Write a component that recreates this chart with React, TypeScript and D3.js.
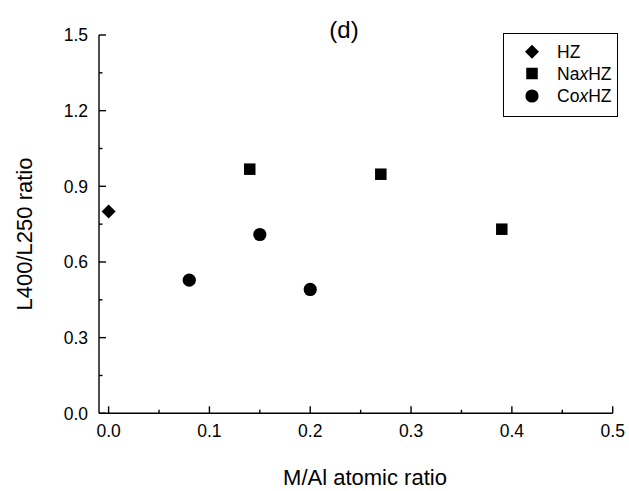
import React from "react";
import * as d3 from "d3";

const hzX = [0.0];
const hzY = [0.8];
const naX = [0.14, 0.27, 0.39];
const naY = [0.968, 0.948, 0.73];
const coX = [0.08, 0.15, 0.2];
const coY = [0.528, 0.709, 0.491];

const xTicks = [0, 0.1, 0.2, 0.3, 0.4, 0.5];
const xMinor = [0.05, 0.15, 0.25, 0.35, 0.45];
const yTicks = [0, 0.3, 0.6, 0.9, 1.2, 1.5];
const yMinor = [0.15, 0.45, 0.75, 1.05, 1.35];

const legendLabels = ["HZ", "NaxHZ", "CoxHZ"];

const W = 629;
const H = 491;
const font = "Liberation Sans, Arial, sans-serif";
const tickFs = 17.5;
const titleFs = 22;

export default function App() {
  const x = d3.scaleLinear().domain([0, 0.5]).range([108.6, 612.7]);
  const y = d3.scaleLinear().domain([0, 1.5]).range([413.3, 35]);
  const axisLeft = 99;
  const axisBottom = y(0);

  const diamondPath = d3.symbol().type(d3.symbolSquare).size(98)() || "";

  const renderMarker = (type: string, cx: number, cy: number, key: string) => {
    if (type === "diamond") {
      return (
        <path key={key} d={diamondPath} transform={`translate(${cx},${cy}) rotate(45)`} fill="#000" />
      );
    }
    if (type === "square") {
      const s = 11.5;
      return <rect key={key} x={cx - s / 2} y={cy - s / 2} width={s} height={s} fill="#000" />;
    }
    return <circle key={key} cx={cx} cy={cy} r={6.6} fill="#000" />;
  };

  const legendTypes = ["diamond", "square", "circle"];
  const legendRows = [51.7, 73.5, 96];

  return (
    <svg width={W} height={H} style={{ position: "absolute", left: 0, top: 0, background: "#fff" }}>
      <rect x={0} y={0} width={W} height={H} fill="#fff" />
      {/* axes */}
      <line x1={axisLeft} y1={y(1.5)} x2={axisLeft} y2={axisBottom} stroke="#000" strokeWidth={1.4} />
      <line x1={axisLeft} y1={axisBottom} x2={x(0.5)} y2={axisBottom} stroke="#000" strokeWidth={1.4} />
      {yTicks.map((t) => (
        <g key={"yt" + t}>
          <line x1={axisLeft} x2={axisLeft + 7} y1={y(t)} y2={y(t)} stroke="#000" strokeWidth={1.4} />
          <text x={88} y={y(t)} dy="0.36em" textAnchor="end" fontFamily={font} fontSize={tickFs}>
            {t.toFixed(1)}
          </text>
        </g>
      ))}
      {yMinor.map((t) => (
        <line key={"ym" + t} x1={axisLeft} x2={axisLeft + 3.5} y1={y(t)} y2={y(t)} stroke="#000" strokeWidth={1.4} />
      ))}
      {xTicks.map((t) => (
        <g key={"xt" + t}>
          <line x1={x(t)} x2={x(t)} y1={axisBottom} y2={axisBottom - 7} stroke="#000" strokeWidth={1.4} />
          <text x={x(t)} y={437} textAnchor="middle" fontFamily={font} fontSize={tickFs}>
            {t.toFixed(1)}
          </text>
        </g>
      ))}
      {xMinor.map((t) => (
        <line key={"xm" + t} x1={x(t)} x2={x(t)} y1={axisBottom} y2={axisBottom - 3.5} stroke="#000" strokeWidth={1.4} />
      ))}
      {/* axis titles */}
      <text x={365} y={485} textAnchor="middle" fontFamily={font} fontSize={titleFs}>
        M/Al atomic ratio
      </text>
      <text
        transform={`translate(31.5,234) rotate(-90)`}
        textAnchor="middle"
        fontFamily={font}
        fontSize={titleFs}
      >
        L400/L250 ratio
      </text>
      <text x={344} y={38} textAnchor="middle" fontFamily={font} fontSize={24}>
        (d)
      </text>
      {/* data */}
      {hzX.map((v, i) => renderMarker("diamond", x(v), y(hzY[i]), "hz" + i))}
      {naX.map((v, i) => renderMarker("square", x(v), y(naY[i]), "na" + i))}
      {coX.map((v, i) => renderMarker("circle", x(v), y(coY[i]), "co" + i))}
      {/* legend */}
      <rect x={503.5} y={33.5} width={114} height={83} fill="#fff" stroke="#000" strokeWidth={1} />
      {legendLabels.map((lab, i) => {
        const ly = legendRows[i];
        const m = lab.match(/^(.*?)(x)(HZ)$/);
        return (
          <g key={"lg" + i}>
            {renderMarker(legendTypes[i], 532, ly, "lm" + i)}
            <text x={557} y={ly} dy="0.36em" fontFamily={font} fontSize={tickFs}>
              {m ? (
                <>
                  {m[1]}
                  <tspan fontStyle="italic">{m[2]}</tspan>
                  {m[3]}
                </>
              ) : (
                lab
              )}
            </text>
          </g>
        );
      })}
    </svg>
  );
}
